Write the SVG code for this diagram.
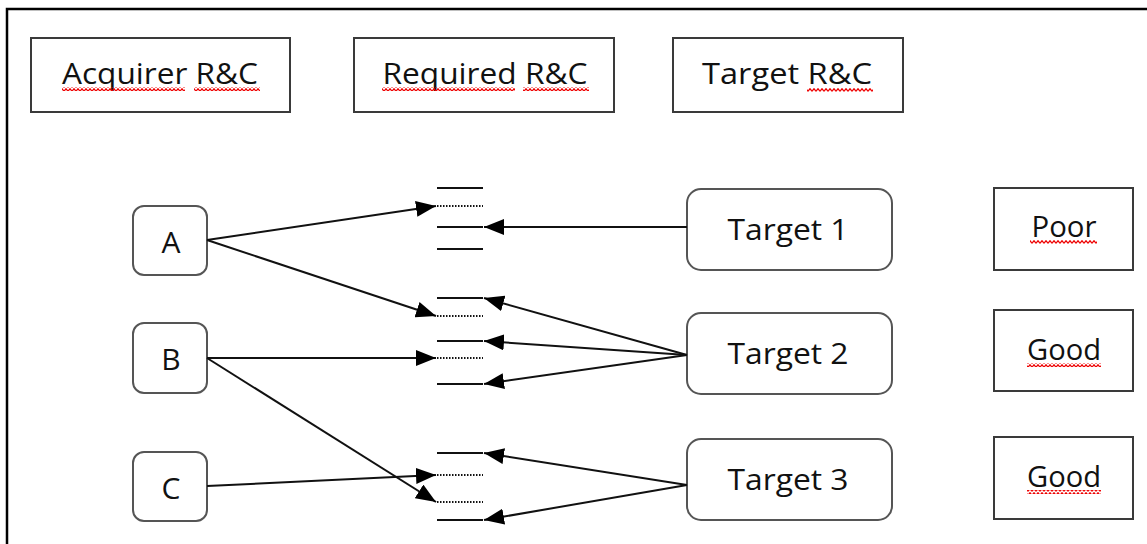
<svg xmlns="http://www.w3.org/2000/svg" width="1147" height="544" viewBox="0 0 1147 544">
<style>
.box{fill:#fff;stroke:#3a3a3a;stroke-width:2}
.rbox{fill:#fff;stroke:#555;stroke-width:2}
.t{font-family:"Open Sans","Liberation Sans",sans-serif;font-size:30px;fill:#111;text-anchor:middle}
.edge{stroke:#111;stroke-width:2;fill:none}
.solid{stroke:#111;stroke-width:2}
.dot{stroke:#111;stroke-width:2;stroke-dasharray:1.5 1.5}
</style>
<defs>
<marker id="ah" viewBox="0 0 10 8" refX="10" refY="4" markerWidth="10" markerHeight="8" markerUnits="strokeWidth" orient="auto">
<path d="M0,0 L10,4 L0,8 z" fill="#000"/>
</marker>
<pattern id="sq" width="4" height="4" patternUnits="userSpaceOnUse">
<path d="M0,3.3 L2,0.7 L4,3.3" fill="none" stroke="#e00" stroke-width="1.2"/>
</pattern>
</defs>
<rect width="1147" height="544" fill="#fff"/>
<path d="M7,544 V9 H1147" fill="none" stroke="#000" stroke-width="2.5"/>

<g id="acquirer">
<rect class="box" x="31" y="38" width="259" height="74"/>
<text class="t" x="160" y="84" textLength="196" lengthAdjust="spacingAndGlyphs">Acquirer R&amp;C</text>
<rect x="62" y="87" width="123" height="4" fill="url(#sq)"/>
<rect x="194" y="87" width="66" height="4" fill="url(#sq)"/>
</g>
<g id="required">
<rect class="box" x="354" y="38" width="260" height="74"/>
<text class="t" x="485" y="84" textLength="205" lengthAdjust="spacingAndGlyphs">Required R&amp;C</text>
<rect x="382" y="87" width="133" height="4" fill="url(#sq)"/>
<rect x="523" y="87" width="66" height="4" fill="url(#sq)"/>
</g>
<g id="targetrc">
<rect class="box" x="673" y="38" width="230" height="74"/>
<text class="t" x="787" y="84" textLength="170" lengthAdjust="spacingAndGlyphs">Target R&amp;C</text>
<rect x="807" y="88" width="66" height="4" fill="url(#sq)"/>
</g>

<g id="nodeA"><rect class="rbox" x="133" y="206" width="74" height="69" rx="11"/><text class="t" x="171" y="253">A</text></g>
<g id="nodeB"><rect class="rbox" x="133" y="323" width="74" height="70" rx="11"/><text class="t" x="171" y="370">B</text></g>
<g id="nodeC"><rect class="rbox" x="133" y="452" width="74" height="69" rx="11"/><text class="t" x="171" y="499">C</text></g>

<g id="target1"><rect class="rbox" x="687" y="189" width="205" height="81" rx="14"/><text class="t" x="788" y="240" textLength="121" lengthAdjust="spacingAndGlyphs">Target 1</text></g>
<g id="target2"><rect class="rbox" x="687" y="313" width="205" height="81" rx="14"/><text class="t" x="788" y="364" textLength="121" lengthAdjust="spacingAndGlyphs">Target 2</text></g>
<g id="target3"><rect class="rbox" x="687" y="439" width="205" height="81" rx="14"/><text class="t" x="788" y="490" textLength="121" lengthAdjust="spacingAndGlyphs">Target 3</text></g>

<g id="poor"><rect class="box" x="994" y="188" width="139" height="82"/><text class="t" x="1064" y="237" textLength="65" lengthAdjust="spacingAndGlyphs">Poor</text><rect x="1030" y="240" width="67" height="4" fill="url(#sq)"/></g>
<g id="good1"><rect class="box" x="994" y="310" width="139" height="81"/><text class="t" x="1064" y="360" textLength="74" lengthAdjust="spacingAndGlyphs">Good</text><rect x="1027" y="363" width="74" height="4" fill="url(#sq)"/></g>
<g id="good2"><rect class="box" x="994" y="437" width="139" height="82"/><text class="t" x="1064" y="487" textLength="74" lengthAdjust="spacingAndGlyphs">Good</text><rect x="1027" y="490" width="74" height="4" fill="url(#sq)"/></g>

<g id="slots">
<line class="solid" x1="437" y1="188" x2="483" y2="188"/>
<line class="dot" x1="437" y1="206" x2="483" y2="206"/>
<line class="solid" x1="437" y1="227" x2="483" y2="227"/>
<line class="solid" x1="437" y1="249" x2="483" y2="249"/>
<line class="solid" x1="437" y1="298" x2="483" y2="298"/>
<line class="dot" x1="437" y1="316" x2="483" y2="316"/>
<line class="solid" x1="437" y1="341" x2="483" y2="341"/>
<line class="dot" x1="437" y1="358" x2="483" y2="358"/>
<line class="solid" x1="437" y1="384" x2="483" y2="384"/>
<line class="solid" x1="437" y1="453" x2="483" y2="453"/>
<line class="dot" x1="437" y1="475" x2="483" y2="475"/>
<line class="dot" x1="437" y1="502" x2="483" y2="502"/>
<line class="solid" x1="437" y1="520" x2="483" y2="520"/>
</g>

<g id="connectors">
<line class="edge" x1="207" y1="240" x2="436" y2="206" marker-end="url(#ah)"/>
<line class="edge" x1="207" y1="240" x2="436" y2="316" marker-end="url(#ah)"/>
<line class="edge" x1="207" y1="358" x2="436" y2="358" marker-end="url(#ah)"/>
<line class="edge" x1="207" y1="358" x2="436" y2="502" marker-end="url(#ah)"/>
<line class="edge" x1="207" y1="486" x2="436" y2="475" marker-end="url(#ah)"/>
<line class="edge" x1="687" y1="227" x2="484" y2="227" marker-end="url(#ah)"/>
<line class="edge" x1="687" y1="355" x2="484" y2="298" marker-end="url(#ah)"/>
<line class="edge" x1="687" y1="355" x2="484" y2="341" marker-end="url(#ah)"/>
<line class="edge" x1="687" y1="355" x2="484" y2="384" marker-end="url(#ah)"/>
<line class="edge" x1="687" y1="485" x2="484" y2="453" marker-end="url(#ah)"/>
<line class="edge" x1="687" y1="485" x2="484" y2="520" marker-end="url(#ah)"/>
</g>
</svg>
